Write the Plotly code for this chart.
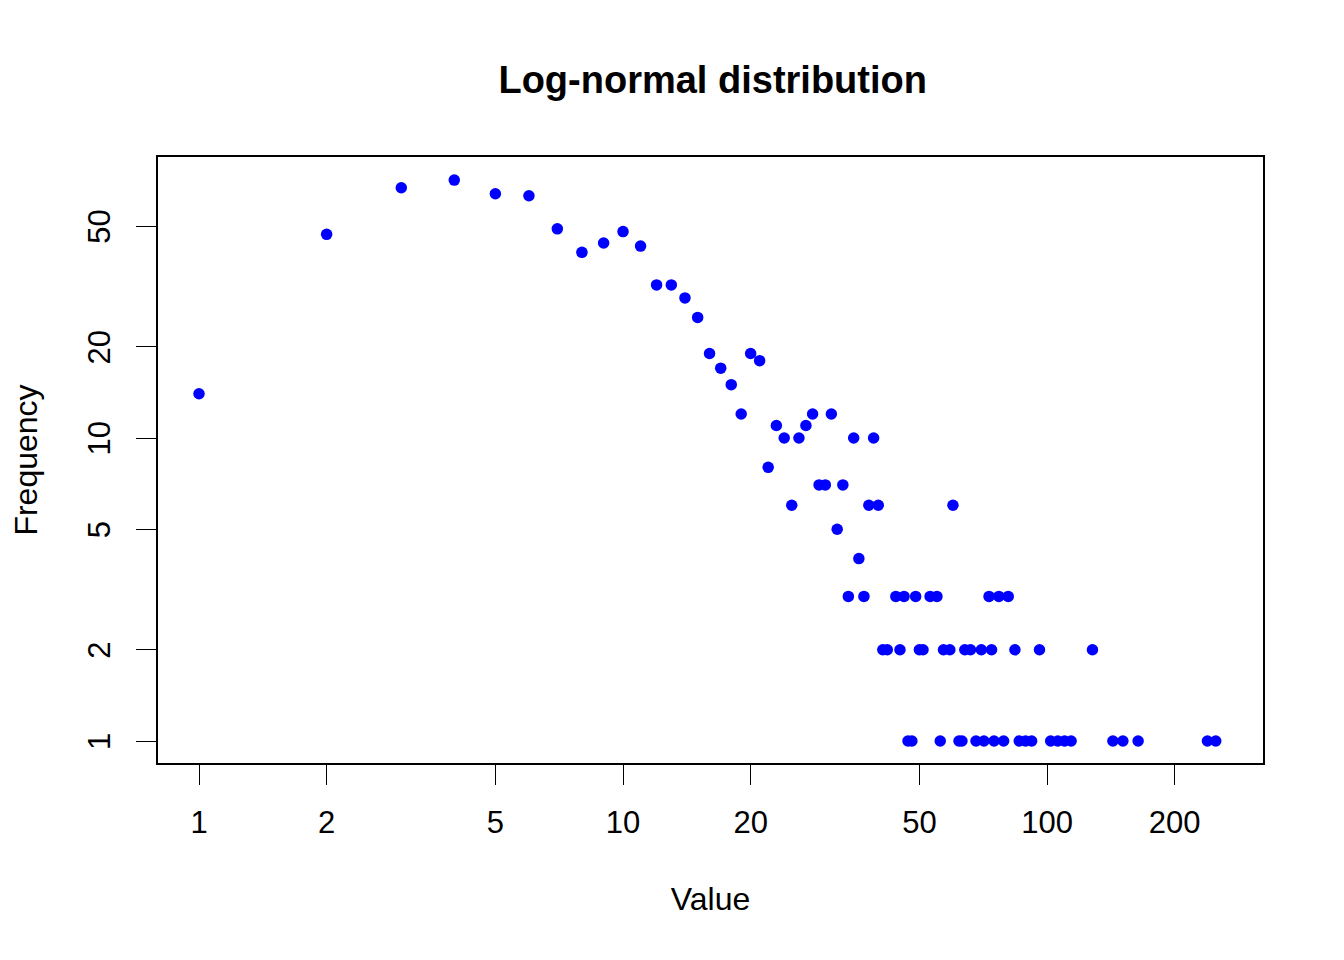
import plotly.graph_objects as go

values = [1, 2, 3, 4, 5, 6, 7, 8, 9, 10,
          11, 12, 13, 14, 15, 16, 17, 18, 19, 20,
          21, 22, 23, 24, 25, 26, 27, 28, 29, 30,
          31, 32, 33, 34, 35, 36, 37, 38, 39, 40,
          41, 42, 44, 45, 46, 47, 48, 49, 50, 51,
          53, 55, 56, 57, 59, 60, 62, 63, 64, 66,
          68, 70, 71, 73, 74, 75, 77, 79, 81, 84,
          86, 89, 92, 96, 102, 106, 110, 114, 128, 143,
          151, 164, 239, 250]
freqs = [14, 47, 67, 71, 64, 63, 49, 41, 44, 48,
         43, 32, 32, 29, 25, 19, 17, 15, 12, 19,
         18, 8, 11, 10, 6, 10, 11, 12, 7, 7,
         12, 5, 7, 3, 10, 4, 3, 6, 10, 6,
         2, 2, 3, 2, 3, 1, 1, 3, 2, 2,
         3, 3, 1, 2, 2, 6, 1, 1, 2, 2,
         1, 2, 1, 3, 2, 1, 3, 1, 3, 2,
         1, 1, 1, 2, 1, 1, 1, 1, 2, 1,
         1, 1, 1, 1]

x_ticks = [1, 2, 5, 10, 20, 50, 100, 200]
y_ticks = [1, 2, 5, 10, 20, 50]

FONT = "Liberation Sans, Arial, Helvetica, sans-serif"

# The page has an 8px body margin, so the figure is sized to fit inside it.
W, H = 1336, 952

fig = go.Figure()
fig.add_trace(go.Scatter(
    x=values, y=freqs, mode="markers",
    marker=dict(color="#0000FF", size=11.5, line=dict(width=0)),
    hoverinfo="x+y", showlegend=False,
))

fig.update_layout(
    width=W, height=H,
    margin=dict(l=150, r=81, t=149, b=197, pad=0, autoexpand=False),
    paper_bgcolor="white", plot_bgcolor="white",
    font=dict(family=FONT, size=31, color="black"),
    title=dict(text="<b>Log-normal distribution</b>", xref="paper", x=0.502,
               xanchor="center", yref="container", y=1 - 72 / H, yanchor="middle",
               font=dict(family=FONT, size=38, color="black")),
    xaxis=dict(
        type="log", range=[-0.0967, 2.5094], automargin=False,
        tickmode="array", tickvals=x_ticks, ticktext=[str(v) for v in x_ticks],
        ticks="outside", ticklen=20, tickwidth=1.3, tickcolor="black",
        showgrid=False, zeroline=False,
        showline=True, mirror=True, linecolor="black", linewidth=1.5,
        ticklabelstandoff=11,
        title=dict(text="Value", standoff=49, font=dict(size=32)),
        tickfont=dict(size=31),
    ),
    yaxis=dict(
        type="log", range=[-0.0726, 1.9274], automargin=False,
        tickmode="array", tickvals=y_ticks, ticktext=[str(v) for v in y_ticks],
        ticks="outside", ticklen=20, tickwidth=1.3, tickcolor="black",
        tickangle=-90,
        showgrid=False, zeroline=False,
        showline=True, mirror=True, linecolor="black", linewidth=1.5,
        ticklabelstandoff=14, ticklabelshift=5,
        title=dict(text="Frequency", standoff=44, font=dict(size=32)),
        tickfont=dict(size=31),
    ),
)

fig.write_html("out.html")
